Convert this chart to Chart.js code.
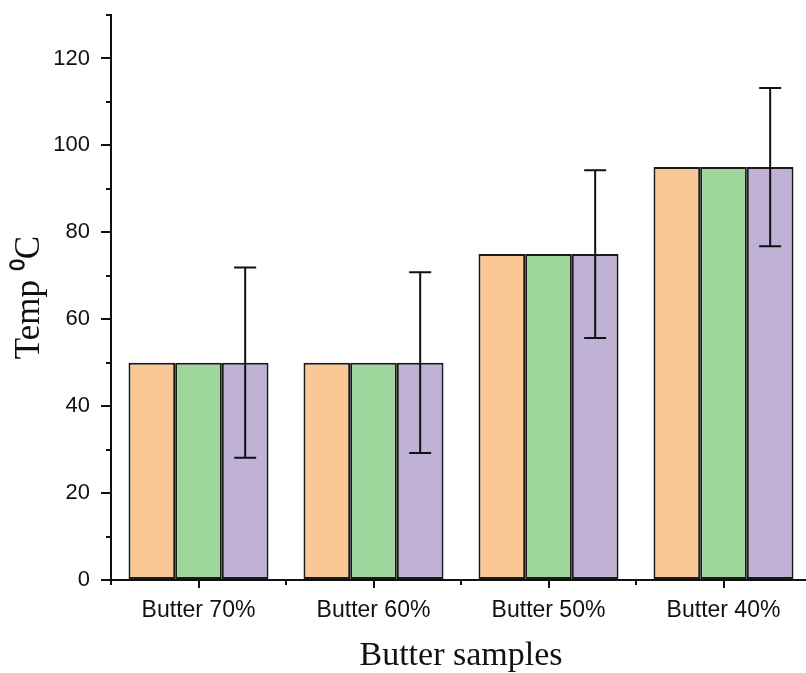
<!DOCTYPE html>
<html>
<head>
<meta charset="utf-8">
<script src="https://cdn.jsdelivr.net/npm/chart.js@4/dist/chart.umd.min.js"></script>
<style>
html, body { margin: 0; padding: 0; background: #fff; overflow: hidden; }
canvas { display: block; }
</style>
</head>
<body>
<canvas id="chart" width="812" height="673"></canvas>
<script>
// Données
const categories = ['Butter 70%', 'Butter 60%', 'Butter 50%', 'Butter 40%'];
const seriesOrange = [50, 50, 75, 95];
const seriesGreen = [50, 50, 75, 95];
const seriesPurple = [50, 50, 75, 95];
const errorPurple = [21.9, 20.8, 19.3, 18.2];
const yMajorTicks = [0, 20, 40, 60, 80, 100, 120];
const yMinorTicks = [10, 30, 50, 70, 90, 110, 130];

const sansFont = 'Liberation Sans, Arial, sans-serif';
const serifFont = 'Liberation Serif, Times New Roman, serif';
const ink = '#111';

// Plugin : barres d'erreur + petites graduations
const extrasPlugin = {
    id: 'extras',
    afterDatasetsDraw(chart) {
        const ctx = chart.ctx;
        const yScale = chart.scales.y;
        const xScale = chart.scales.x;
        ctx.save();
        ctx.strokeStyle = ink;
        ctx.lineWidth = 2;

        // barres d'erreur sur la série violette
        const meta = chart.getDatasetMeta(2);
        meta.data.forEach((bar, i) => {
            const v = seriesPurple[i];
            const top = yScale.getPixelForValue(v + errorPurple[i]);
            const bottom = yScale.getPixelForValue(v - errorPurple[i]);
            ctx.beginPath();
            ctx.moveTo(bar.x, top);
            ctx.lineTo(bar.x, bottom);
            ctx.moveTo(bar.x - 11, top);
            ctx.lineTo(bar.x + 11, top);
            ctx.moveTo(bar.x - 11, bottom);
            ctx.lineTo(bar.x + 11, bottom);
            ctx.stroke();
        });

        // graduations mineures de l'axe y
        const left = chart.chartArea.left;
        yMinorTicks.forEach(v => {
            const y = Math.round(yScale.getPixelForValue(v));
            ctx.beginPath();
            ctx.moveTo(left - 5, y);
            ctx.lineTo(left, y);
            ctx.stroke();
        });

        // graduations entre les catégories sur l'axe x
        const bottomY = chart.chartArea.bottom;
        for (let i = 0; i <= categories.length; i++) {
            const x = Math.round(xScale.getPixelForValue(i - 0.5));
            ctx.beginPath();
            ctx.moveTo(x, bottomY);
            ctx.lineTo(x, bottomY + 5);
            ctx.stroke();
        }
        ctx.restore();
    }
};

const barStyle = {
    borderColor: '#1a1a1a',
    borderWidth: 2,
    borderSkipped: false,
    barPercentage: 1.0,
    categoryPercentage: 0.8
};

new Chart(document.getElementById('chart'), {
    type: 'bar',
    data: {
        labels: categories,
        datasets: [
            Object.assign({ label: 'A', data: seriesOrange, backgroundColor: '#FAC795' }, barStyle),
            Object.assign({ label: 'B', data: seriesGreen, backgroundColor: '#9ED69B' }, barStyle),
            Object.assign({ label: 'C', data: seriesPurple, backgroundColor: '#C0B2D6' }, barStyle)
        ]
    },
    options: {
        responsive: false,
        devicePixelRatio: 1,
        animation: false,
        layout: { padding: { top: 15, right: 1, left: 0, bottom: 0 } },
        plugins: {
            legend: { display: false },
            tooltip: { enabled: false }
        },
        scales: {
            x: {
                grid: {
                    offset: false,
                    drawOnChartArea: false,
                    drawTicks: true,
                    tickLength: 8,
                    lineWidth: 2,
                    color: ink
                },
                border: { display: true, color: ink, width: 2 },
                ticks: {
                    font: { family: sansFont, size: 23 },
                    color: ink,
                    padding: 9,
                    maxRotation: 0
                },
                title: {
                    display: true,
                    text: 'Butter samples',
                    color: ink,
                    font: { family: serifFont, size: 34, lineHeight: 1 },
                    padding: { top: 0, bottom: 0 }
                },
                afterFit: s => { s.height = 93; }
            },
            y: {
                min: 0,
                max: 130,
                ticks: {
                    stepSize: 10,
                    autoSkip: false,
                    font: { family: sansFont, size: 22 },
                    color: ink,
                    padding: 11,
                    callback: v => yMajorTicks.includes(v) ? String(v) : ''
                },
                grid: {
                    drawOnChartArea: false,
                    drawTicks: true,
                    tickLength: 10,
                    lineWidth: 2,
                    color: c => (c.tick && yMajorTicks.includes(c.tick.value)) ? ink : 'rgba(0,0,0,0)'
                },
                border: { display: true, color: ink, width: 2 },
                title: {
                    display: true,
                    text: 'Temp \u2070C',
                    color: ink,
                    font: { family: serifFont, size: 35, lineHeight: 1 },
                    padding: { top: 12, bottom: 0 }
                },
                afterFit: s => {
                    s.width = 111;
                    s.paddingTop = 0;
                    s.paddingBottom = 0;
                }
            }
        }
    },
    plugins: [extrasPlugin]
});
</script>
</body>
</html>
